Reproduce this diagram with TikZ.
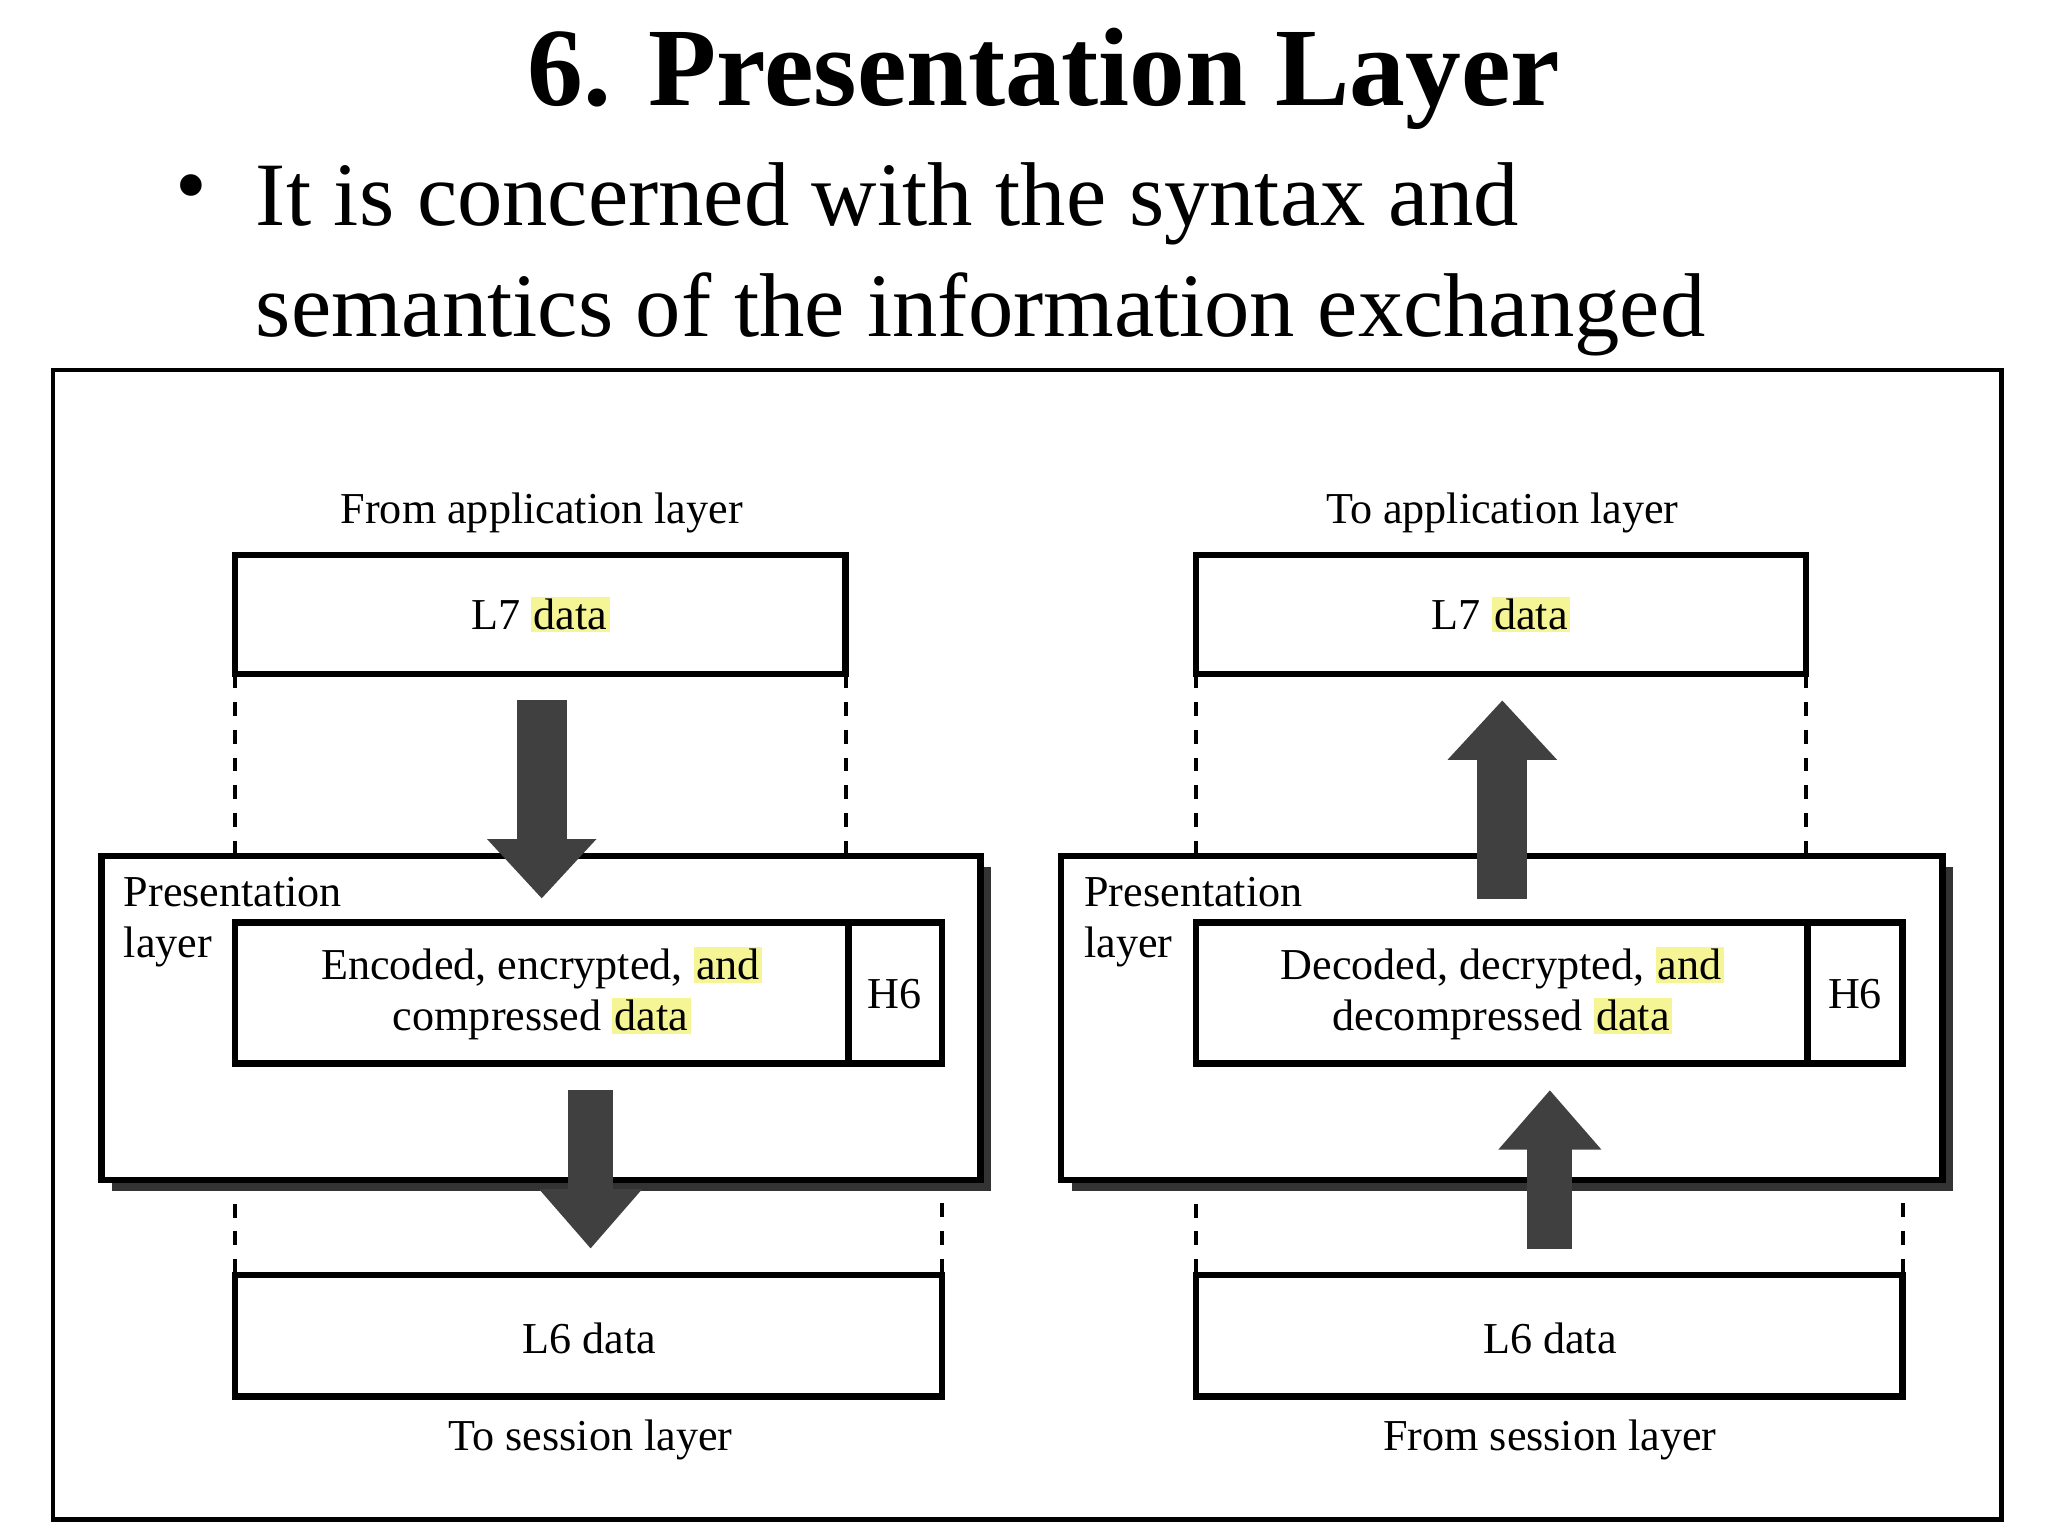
\documentclass[tikz,border=0pt]{standalone}
\usepackage{fontspec}
\setmainfont{Liberation Serif}
\usetikzlibrary{arrows.meta}
\definecolor{hly}{RGB}{245,245,150}
\newcommand{\hlt}[1]{{\setlength{\fboxsep}{0.5pt}\colorbox{hly}{#1}}}
\begin{document}
\begin{tikzpicture}[x=0.01cm,y=-0.01cm,
  lbl/.style={font=\fontsize{9.5}{11}\selectfont},
  box/.style={draw,line width=1.4pt,fill=white},
  dsh/.style={draw,dashed,line width=0.9pt},
  big/.style={line width=0.38cm,draw=black!75,-{Triangle[width=0.8cm,length=0.45cm]}},
  small/.style={line width=0.34cm,draw=black!75,-{Triangle[width=0.75cm,length=0.45cm]}}]
\useasboundingbox (0,0) rectangle (1550,1162);
\node[font=\fontsize{24}{28}\selectfont\bfseries] (title) at (790,60) {6. Presentation Layer};
\node[font=\fontsize{19.5}{22}\selectfont] (bul) at (145,148) {\textbullet};
\node[anchor=north west,align=left,inner sep=0,font=\fontsize{19.5}{24}\selectfont] (txt) at (193,122) {It is concerned with the syntax and\\ semantics of the information exchanged};
\draw[line width=1pt] (40,280) rectangle (1515,1150);
% ---- left
\node[lbl] (fa) at (410,388) {From application layer};
\draw[box] (178,420) rectangle (640,510);
\node[lbl] (l7a) at (409,465) {L7 \hlt{data}};
\draw[dsh] (178,510) -- (178,965);
\draw[dsh] (640,510) -- (640,698);
\draw[dsh] (713,805) -- (713,965);
\fill[black!80] (85,656) rectangle (750,901);
\draw[box] (77,648) rectangle (742,893);
\node[lbl,anchor=north west,align=left,inner sep=0] (pla) at (93,663) {Presentation\\layer};
\draw[box] (178,698) rectangle (713,805);
\draw[line width=1.4pt] (642,698) -- (642,805);
\node[lbl,align=center] (enc) at (410,752) {Encoded, encrypted, \hlt{and}\\compressed \hlt{data}};
\node[lbl] (h6a) at (677,752) {H6};
\draw[box] (178,965) rectangle (713,1057);
\node[lbl] (l6a) at (446,1013) {L6 data};
\node[lbl] (tsa) at (447,1090) {To session layer};
\coordinate (a1s) at (410,530); \coordinate (a1e) at (410,680);
\coordinate (a2s) at (447,825); \coordinate (a2e) at (447,945);
\draw[big] (a1s) -- (a1e);
\draw[small] (a2s) -- (a2e);
% ---- right
\node[lbl] (ta) at (1137,388) {To application layer};
\draw[box] (905,420) rectangle (1367,510);
\node[lbl] (l7b) at (1136,465) {L7 \hlt{data}};
\draw[dsh] (905,510) -- (905,965);
\draw[dsh] (1367,510) -- (1367,698);
\draw[dsh] (1440,805) -- (1440,965);
\fill[black!80] (811,656) rectangle (1478,901);
\draw[box] (803,648) rectangle (1470,893);
\node[lbl,anchor=north west,align=left,inner sep=0] (plb) at (820,663) {Presentation\\layer};
\draw[box] (905,698) rectangle (1440,805);
\draw[line width=1.4pt] (1368,698) -- (1368,805);
\node[lbl,align=center] (dec) at (1137,752) {Decoded, decrypted, \hlt{and}\\decompressed \hlt{data}};
\node[lbl] (h6b) at (1404,752) {H6};
\draw[box] (905,965) rectangle (1440,1057);
\node[lbl] (l6b) at (1173,1013) {L6 data};
\node[lbl] (fsb) at (1173,1090) {From session layer};
\coordinate (b1s) at (1137,680); \coordinate (b1e) at (1137,530);
\coordinate (b2s) at (1173,945); \coordinate (b2e) at (1173,825);
\draw[big] (b1s) -- (b1e);
\draw[small] (b2s) -- (b2e);
\end{tikzpicture}
\end{document}
